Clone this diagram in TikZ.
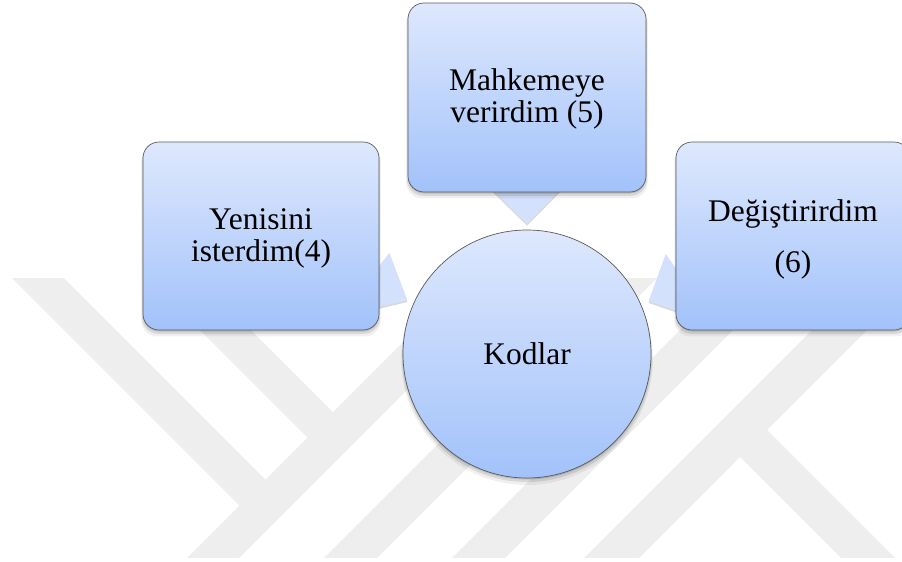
\documentclass[tikz,border=0pt]{standalone}
\usepackage{fontspec}
\setmainfont{Liberation Serif}
\usetikzlibrary{shadows,calc,backgrounds}
\definecolor{wm}{RGB}{238,238,238}
\definecolor{btop}{RGB}{222,232,253}
\definecolor{bbot}{RGB}{162,194,250}
\definecolor{edgecol}{RGB}{90,90,90}
\definecolor{tailcol}{RGB}{212,225,252}
\begin{document}
\begin{tikzpicture}[x=1pt,y=-1pt,
  softshadow/.style={
    drop shadow={shadow xshift=0pt, shadow yshift=-5pt, shadow scale=1.015, opacity=0.06, fill=black},
    drop shadow={shadow xshift=0pt, shadow yshift=-3pt, shadow scale=1.008, opacity=0.10, fill=black},
    drop shadow={shadow xshift=0pt, shadow yshift=-1.5pt, opacity=0.14, fill=black}},
  box/.style={rounded corners=16pt, draw=edgecol, line width=0.7pt,
    top color=btop, bottom color=bbot, inner sep=0pt, softshadow},
  bubble/.style={circle, draw=edgecol, line width=0.7pt, top color=btop, bottom color=bbot,
    minimum size=248pt, inner sep=0pt,
    font=\fontsize{31.5}{32}\selectfont, softshadow},
  lbl/.style={font=\fontsize{31.5}{32}\selectfont, align=center, text=black, inner sep=0pt},
  tailpart/.style={fill=tailcol,
    drop shadow={shadow xshift=0pt, shadow yshift=-2pt, opacity=0.15, fill=black}},
  mark band/.style={fill=wm}
]
\useasboundingbox (0,0) rectangle (902,562);
% boxes and circle
\node[box, minimum width=236pt, minimum height=188pt] (lb) at (261,236) {};
\node[box, minimum width=238pt, minimum height=189pt] (tb) at (527,97.5) {};
\node[box, minimum width=234pt, minimum height=188pt] (rb) at (793,236) {};
\node[bubble] (kod) at (527,354) {Kodlar};
% labels
\node[lbl] (lbt) at ($(lb.center)+(0,2)$) {Yenisini\\isterdim(4)};
\node[lbl] (tbt) at ($(tb.center)+(0,1)$) {Mahkemeye\\verirdim (5)};
\node[lbl] (rbt) at ($(rb.center)+(0,3.5)$) {Değiştirirdim\\[19pt](6)};
\begin{scope}[on background layer]
  % watermark
  \begin{scope}
    \clip (0,278) rectangle (902,557);
    \fill[mark band] (12,278) -- (64,278) -- (278,492) -- (252,518) -- cycle;
    \fill[mark band] (148,278) -- (199,278) -- (345.5,424.5) -- (320,450) -- cycle;
    \fill[mark band] (175,570) -- (227,570) -- (527,270) -- (475,270) -- cycle;
    \fill[mark band] (312,570) -- (365,570) -- (665,270) -- (612,270) -- cycle;
    \fill[mark band] (440,570) -- (493,570) -- (793,270) -- (740,270) -- cycle;
    \fill[mark band] (572,570) -- (627,570) -- (927,270) -- (872,270) -- cycle;
    \fill[mark band] (731.5,448.5) -- (758.5,421.5) -- (907,570) -- (853,570) -- cycle;
  \end{scope}
  % callout tails
  \fill[tailpart] ($(tb.south)+(-36,-4)$) -- ($(tb.south)+(35,-4)$) -- ($(kod.north)+(0,-6)$) -- cycle;
  \fill[tailpart] ($(lb.east)+(-5,36)$) -- ($(lb.east)+(10,17)$) -- ($(lb.east)+(28,64)$) -- ($(lb.east)+(-5,72)$) -- cycle;
  \fill[tailpart] ($(rb.west)+(5,39)$) -- ($(rb.west)+(-10,18)$) -- ($(rb.west)+(-27,65)$) -- ($(rb.west)+(5,76)$) -- cycle;
\end{scope}
\end{tikzpicture}
\end{document}
